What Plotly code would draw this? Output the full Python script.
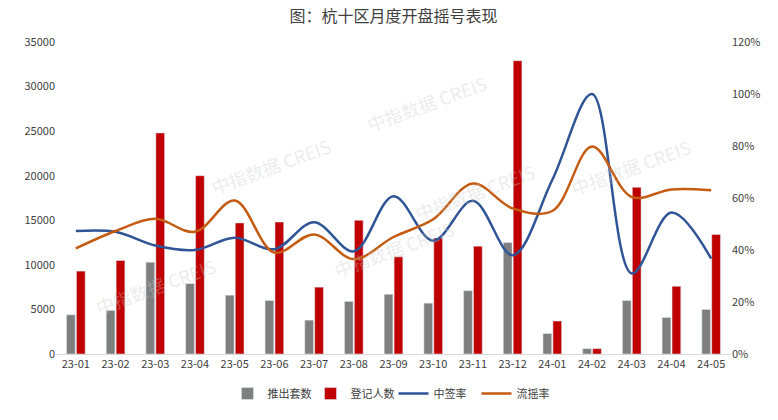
import plotly.graph_objects as go

months = ["23-01","23-02","23-03","23-04","23-05","23-06","23-07","23-08","23-09",
          "23-10","23-11","23-12","24-01","24-02","24-03","24-04","24-05"]
supply = [4400, 4900, 10300, 7900, 6600, 6000, 3800, 5900, 6700,
          5700, 7100, 12500, 2300, 600, 6000, 4100, 5000]
registered = [9300, 10500, 24800, 20000, 14700, 14800, 7500, 15000, 10900,
              13000, 12100, 32900, 3700, 600, 18700, 7600, 13400]
win_rate = [47.3, 47.0, 41.7, 40.0, 44.7, 40.3, 50.7, 39.5, 60.7,
            43.6, 58.9, 38.0, 67.0, 100.0, 31.0, 54.4, 36.7]
flow_rate = [40.6, 47.3, 52.0, 47.0, 59.0, 39.0, 46.0, 36.5, 45.0,
             51.8, 65.6, 56.0, 55.0, 79.8, 60.4, 63.3, 63.0]

font_family = "Noto Sans CJK SC"

fig = go.Figure()
fig.add_trace(go.Bar(x=months, y=supply, name="推出套数", marker_color="#7f7f7f"))
fig.add_trace(go.Bar(x=months, y=registered, name="登记人数", marker_color="#c00000"))
fig.add_trace(go.Scatter(x=months, y=[v/100 for v in win_rate], name="中签率", yaxis="y2",
                         mode="lines", line=dict(color="#2f5597", width=2.5, shape="spline", smoothing=1.0)))
fig.add_trace(go.Scatter(x=months, y=[v/100 for v in flow_rate], name="流摇率", yaxis="y2",
                         mode="lines", line=dict(color="#c55a11", width=2.5, shape="spline", smoothing=1.0)))

# watermarks
wm = [(0.55, 0.92), (0.62, 0.52), (0.95, 0.6), (0.22, 0.72), (0.05, 0.1), (0.5, 0.22)]
annotations = []
for x, y in wm:
    annotations.append(dict(text="中指数据 CREIS", x=x, y=y, xref="paper", yref="paper",
                            showarrow=False, textangle=-20,
                            font=dict(size=18, color="rgba(200,200,200,0.35)", family=font_family)))

fig.update_layout(
    width=778, height=420,
    margin=dict(l=56, r=47, t=42, b=56),
    paper_bgcolor="white", plot_bgcolor="white",
    title=dict(text="图：杭十区月度开盘摇号表现", x=0.5, xref="paper", xanchor="center",
               y=0.96, yanchor="middle", font=dict(size=16, color="#404040", family=font_family)),
    font=dict(family=font_family, size=11, color="#404040"),
    barmode="group", bargap=0.5, bargroupgap=0.12,
    xaxis=dict(type="category", showgrid=False, showline=True, linecolor="#d9d9d9", linewidth=1,
               ticks="", tickfont=dict(size=11, color="#404040")),
    yaxis=dict(range=[0, 35000], dtick=5000, showgrid=False, zeroline=False,
               tickformat="d", ticks="", tickfont=dict(size=11, color="#404040")),
    yaxis2=dict(range=[0, 1.2], dtick=0.2, overlaying="y", side="right", showgrid=False,
                zeroline=False, tickformat=".0%", ticks="", tickfont=dict(size=11, color="#404040")),
    legend=dict(orientation="h", x=0.5, xanchor="center", y=-0.127, yanchor="middle",
                font=dict(size=11, color="#404040"), itemwidth=30, traceorder="normal",
                entrywidth=38, entrywidthmode="pixels"),
    annotations=annotations,
    showlegend=True,
)

fig.write_html("out.html")
